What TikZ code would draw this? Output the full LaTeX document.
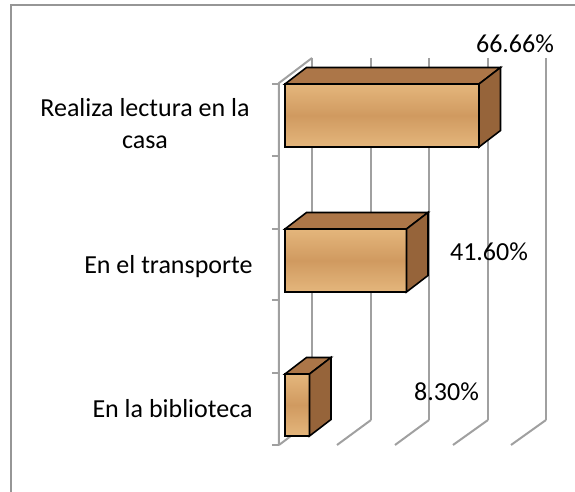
\documentclass[tikz,border=0pt]{standalone}
\usepackage{fontspec}
\setmainfont{Carlito}
\usetikzlibrary{positioning}
\definecolor{gridgray}{RGB}{160,160,160}
\definecolor{framegray}{RGB}{150,150,150}
\definecolor{woodlight}{RGB}{228,182,124}
\definecolor{woodmid}{RGB}{208,154,96}
\definecolor{wooddark}{RGB}{165,108,60}
\definecolor{woodtop}{RGB}{172,118,72}
\definecolor{woodside}{RGB}{150,100,58}
\tikzset{
  gridline/.style={line width=1pt,color=gridgray},
  barfront/.style={draw=black,line width=0.8pt,top color=woodlight,bottom color=woodlight,middle color=woodmid},
  bartop/.style={draw=black,line width=0.8pt,fill=woodtop},
  barside/.style={draw=black,line width=0.8pt,fill=woodside},
  streak/.style={color=wooddark,opacity=0.35,line width=1.2pt},
  catlabel/.style={font=\fontsize{13}{16}\selectfont,inner sep=0pt},
  pctlabel/.style={font=\fontsize{13}{16}\selectfont,inner sep=0pt}
}
\begin{document}
\begin{tikzpicture}[x=0.5pt,y=-0.5pt]
\useasboundingbox (0,0) rectangle (575,492);
%outer frame
\draw[line width=1pt,color=framegray] (11,492) -- (11,5) -- (575,5);
%back wall
\draw[gridline] (312,58) -- (312,420);
\draw[gridline] (371,58) -- (371,420);
\draw[gridline] (429,58) -- (429,420);
\draw[gridline] (488,58) -- (488,420);
\draw[gridline] (546,58) -- (546,420);
%floor
\draw[gridline] (279,445) -- (312,420);
\draw[gridline] (337,445) -- (371,420);
\draw[gridline] (395,445) -- (429,420);
\draw[gridline] (453,445) -- (488,420);
\draw[gridline] (511,445) -- (546,420);
%left wall and ticks
\draw[gridline] (312,58) -- (279,83) -- (279,445);
\draw[gridline] (272,84) -- (279,84);
\draw[gridline] (272,156) -- (279,156);
\draw[gridline] (272,229) -- (279,229);
\draw[gridline] (272,300) -- (279,300);
\draw[gridline] (272,373) -- (279,373);
\draw[gridline] (272,445) -- (279,445);
%bar for la casa
\fill[barfront] (285,84) rectangle (479,147);
\draw[streak] (292,104) -- (470,106);
\draw[streak] (290,130) -- (474,128);
\draw[barfront,fill=none] (285,84) rectangle (479,147);
\draw[bartop] (285,84) -- (306.5,67.5) -- (500.5,67.5) -- (479,84) -- cycle;
\draw[barside] (479,84) -- (500.5,67.5) -- (500.5,130.5) -- (479,147) -- cycle;
%bar for el transporte
\fill[barfront] (285,229) rectangle (406.5,292);
\draw[streak] (292,250) -- (400,248);
\draw[streak] (290,272) -- (402,274);
\draw[barfront,fill=none] (285,229) rectangle (406.5,292);
\draw[bartop] (285,229) -- (306.5,212.5) -- (428,212.5) -- (406.5,229) -- cycle;
\draw[barside] (406.5,229) -- (428,212.5) -- (428,275.5) -- (406.5,292) -- cycle;
%bar for la biblioteca
\draw[barfront] (285,374) rectangle (309.5,436);
\draw[bartop] (285,374) -- (306.5,357.5) -- (331,357.5) -- (309.5,374) -- cycle;
\draw[barside] (309.5,374) -- (331,357.5) -- (331,419.5) -- (309.5,436) -- cycle;
%category labels
\node[catlabel,align=center,anchor=center] (casa) at (145,124) {Realiza lectura en la\\casa};
\node[catlabel,anchor=base east] (transporte) at (253,274) {En el transporte};
\node[catlabel,anchor=base east] (biblioteca) at (253,418) {En la biblioteca};
%percentages
\node[pctlabel,anchor=base] (pcasa) at (515,53) {66.66\%};
\node[pctlabel,anchor=base] (ptransporte) at (489,261) {41.60\%};
\node[pctlabel,anchor=base] (pbiblioteca) at (446.5,401) {8.30\%};
\end{tikzpicture}
\end{document}
